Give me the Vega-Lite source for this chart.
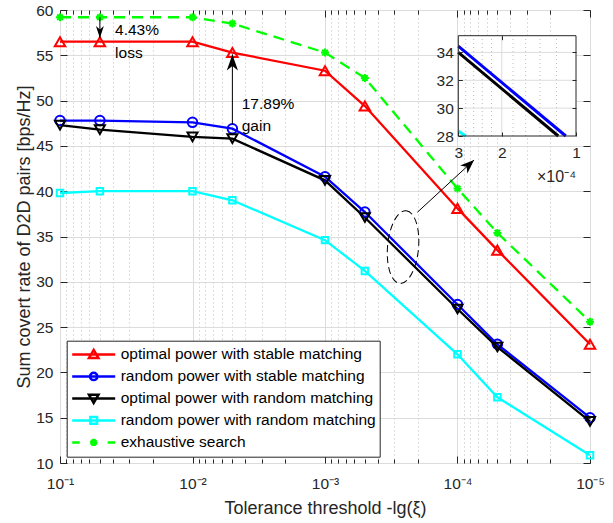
{
  "$schema": "https://vega.github.io/schema/vega-lite/v6.json",
  "width": 530,
  "height": 453,
  "autosize": {"type": "none"},
  "padding": {"left": 60, "top": 10, "right": 23, "bottom": 60},
  "background": "white",
  "datasets": {
    "main": [
      {"s": "optimal power with stable matching", "x": 0.1, "y": 56.5},
      {"s": "optimal power with stable matching", "x": 0.05, "y": 56.5},
      {"s": "optimal power with stable matching", "x": 0.01, "y": 56.5},
      {"s": "optimal power with stable matching", "x": 0.005, "y": 55.3},
      {"s": "optimal power with stable matching", "x": 0.001, "y": 53.3},
      {"s": "optimal power with stable matching", "x": 0.0005, "y": 49.4},
      {"s": "optimal power with stable matching", "x": 0.0001, "y": 38.1},
      {"s": "optimal power with stable matching", "x": 0.00005, "y": 33.5},
      {"s": "optimal power with stable matching", "x": 0.00001, "y": 23.1},
      {"s": "random power with stable matching", "x": 0.1, "y": 47.8},
      {"s": "random power with stable matching", "x": 0.05, "y": 47.8},
      {"s": "random power with stable matching", "x": 0.01, "y": 47.6},
      {"s": "random power with stable matching", "x": 0.005, "y": 46.9},
      {"s": "random power with stable matching", "x": 0.001, "y": 41.6},
      {"s": "random power with stable matching", "x": 0.0005, "y": 37.7},
      {"s": "random power with stable matching", "x": 0.0001, "y": 27.5},
      {"s": "random power with stable matching", "x": 0.00005, "y": 23.1},
      {"s": "random power with stable matching", "x": 0.00001, "y": 15.0},
      {"s": "optimal power with random matching", "x": 0.1, "y": 47.3},
      {"s": "optimal power with random matching", "x": 0.05, "y": 46.8},
      {"s": "optimal power with random matching", "x": 0.01, "y": 46.0},
      {"s": "optimal power with random matching", "x": 0.005, "y": 45.8},
      {"s": "optimal power with random matching", "x": 0.001, "y": 41.2},
      {"s": "optimal power with random matching", "x": 0.0005, "y": 37.1},
      {"s": "optimal power with random matching", "x": 0.0001, "y": 27.0},
      {"s": "optimal power with random matching", "x": 0.00005, "y": 22.8},
      {"s": "optimal power with random matching", "x": 0.00001, "y": 14.6},
      {"s": "random power with random matching", "x": 0.1, "y": 39.8},
      {"s": "random power with random matching", "x": 0.05, "y": 40.0},
      {"s": "random power with random matching", "x": 0.01, "y": 40.0},
      {"s": "random power with random matching", "x": 0.005, "y": 39.0},
      {"s": "random power with random matching", "x": 0.001, "y": 34.6},
      {"s": "random power with random matching", "x": 0.0005, "y": 31.2},
      {"s": "random power with random matching", "x": 0.0001, "y": 22.0},
      {"s": "random power with random matching", "x": 0.00005, "y": 17.25},
      {"s": "random power with random matching", "x": 0.00001, "y": 10.85},
      {"s": "exhaustive search", "x": 0.1, "y": 59.2},
      {"s": "exhaustive search", "x": 0.05, "y": 59.2},
      {"s": "exhaustive search", "x": 0.01, "y": 59.2},
      {"s": "exhaustive search", "x": 0.005, "y": 58.5},
      {"s": "exhaustive search", "x": 0.001, "y": 55.3},
      {"s": "exhaustive search", "x": 0.0005, "y": 52.5},
      {"s": "exhaustive search", "x": 0.0001, "y": 40.3},
      {"s": "exhaustive search", "x": 0.00005, "y": 35.4},
      {"s": "exhaustive search", "x": 0.00001, "y": 25.6}
    ],
    "arrows": [
      {"id": "a1", "x": 0.05, "y": 59.2, "x2": 0.05, "y2": 56.9},
      {"id": "a2", "x": 0.005, "y": 47.4, "x2": 0.005, "y2": 55.1},
      {"id": "a3", "x": 0.000201, "y": 37.67, "x2": 0.000075, "y2": 43.44}
    ],
    "labels": [
      {"t": "4.43%", "x": 0.0384, "y": 57.74},
      {"t": "loss", "x": 0.0384, "y": 55.28},
      {"t": "17.89%", "x": 0.00425, "y": 49.59},
      {"t": "gain", "x": 0.00425, "y": 47.16}
    ],
    "ellipse": [{"x": 0.0002576, "y": 33.83}],
    "inset": [
      {"s": "random power with stable matching", "x": 0.0003, "y": 34.45},
      {"s": "random power with stable matching", "x": 0.00011, "y": 28},
      {"s": "optimal power with random matching", "x": 0.0003, "y": 34.0},
      {"s": "optimal power with random matching", "x": 0.000118, "y": 28},
      {"s": "random power with random matching", "x": 0.0003, "y": 28.35},
      {"s": "random power with random matching", "x": 0.00028, "y": 28}
    ],
    "vmajor": [{"gx": 0.0002}],
    "vminor": [{"gx": 0.00012}, {"gx": 0.00014}, {"gx": 0.00016}, {"gx": 0.00018}, {"gx": 0.00022}, {"gx": 0.00024}, {"gx": 0.00026}, {"gx": 0.00028}],
    "hmajor": [{"gy": 30}, {"gy": 32}, {"gy": 34}]
  },
  "config": {
    "font": "Liberation Sans",
    "view": {"stroke": "#262626", "strokeWidth": 1},
    "axis": {
      "labelFont": "Liberation Sans", "labelFontSize": 15.5, "labelColor": "#262626",
      "titleFont": "Liberation Sans", "titleFontSize": 18, "titleFontWeight": "normal", "titleColor": "#262626",
      "tickColor": "#262626", "tickWidth": 1, "gridWidth": 1, "domain": false
    },
    "legend": {"titleFont": "Liberation Sans", "labelFont": "Liberation Sans"},
    "text": {"font": "Liberation Sans"}
  },
  "resolve": {"scale": {"x": "independent", "y": "independent"}},
  "layer": [
    {
      "resolve": {"axis": {"x": "independent", "y": "independent"}},
      "layer": [
        {
          "data": {"name": "main"},
          "transform": [{"filter": "datum.s != 'exhaustive search'"}],
          "mark": {"type": "line", "strokeWidth": 2.3},
          "encoding": {
            "x": {"field": "x", "type": "quantitative",
              "scale": {"type": "log", "domain": [0.00001, 0.1], "reverse": true, "nice": false},
              "axis": {"orient": "bottom", "values": [0.1, 0.01, 0.001, 0.0001, 0.00001],
                "labelExpr": "'10' + ['⁰','⁻¹','⁻²','⁻³','⁻⁴','⁻⁵'][round(-log(datum.value)/LN10)]",
                "tickSize": -7, "labelPadding": 32, "labelBaseline": "alphabetic", "labelFlush": false, "labelOverlap": false,
                "grid": true, "gridColor": "#dcdcdc", "domain": false,
                "title": "Tolerance threshold -lg(ξ)", "titleX": 265, "titleY": 50, "titleBaseline": "alphabetic"}},
            "y": {"field": "y", "type": "quantitative",
              "scale": {"domain": [10, 60], "nice": false, "zero": false},
              "axis": {"orient": "left", "values": [10, 15, 20, 25, 30, 35, 40, 45, 50, 55, 60],
                "tickSize": -7, "labelPadding": 14, "grid": true, "gridColor": "#dcdcdc", "domain": false,
                "title": "Sum covert rate of D2D pairs [bps/Hz]", "titleX": -35.5, "titleY": 226.5, "titleBaseline": "middle", "titleAngle": -90}},
            "stroke": {"field": "s", "type": "nominal",
              "scale": {"domain": ["exhaustive search", "random power with random matching", "optimal power with random matching", "random power with stable matching", "optimal power with stable matching"],
                "range": ["#00ff00", "#00ffff", "#000000", "#0000ff", "#ff0000"]},
              "legend": null}
          }
        },
        {
          "data": {"name": "main"},
          "transform": [{"filter": "datum.s == 'exhaustive search'"}],
          "mark": {"type": "line", "strokeWidth": 2.3, "color": "#00ff00", "strokeDash": [11, 7]},
          "encoding": {
            "x": {"field": "x", "type": "quantitative",
              "axis": {"orient": "bottom", "values": [0.09, 0.08, 0.07, 0.06, 0.05, 0.04, 0.03, 0.02, 0.009, 0.008, 0.007, 0.006, 0.005, 0.004, 0.003, 0.002, 0.0009, 0.0008, 0.0007, 0.0006, 0.0005, 0.0004, 0.0003, 0.0002, 0.00009, 0.00008, 0.00007, 0.00006, 0.00005, 0.00004, 0.00003, 0.00002],
                "tickSize": -4, "labels": false, "grid": true, "gridDash": [1, 3], "gridColor": "#bdbdbd", "domain": false, "title": null}},
            "y": {"field": "y", "type": "quantitative",
              "axis": {"orient": "right", "values": [10, 15, 20, 25, 30, 35, 40, 45, 50, 55, 60],
                "tickSize": -7, "labels": false, "grid": false, "domain": false, "title": null}}
          }
        },
        {
          "data": {"name": "main"},
          "transform": [{"filter": "datum.s == 'optimal power with stable matching'"}],
          "mark": {"type": "point", "shape": "triangle-up", "size": 110, "filled": false, "strokeWidth": 2, "color": "#ff0000", "opacity": 1},
          "encoding": {
            "x": {"field": "x", "type": "quantitative",
              "axis": {"orient": "top", "values": [0.1, 0.01, 0.001, 0.0001, 0.00001], "tickSize": -7, "labels": false, "grid": false, "domain": false, "title": null}},
            "y": {"field": "y", "type": "quantitative", "axis": null}
          }
        },
        {
          "data": {"name": "main"},
          "transform": [{"filter": "datum.s == 'random power with stable matching'"}],
          "mark": {"type": "point", "shape": "circle", "size": 90, "filled": false, "strokeWidth": 2, "color": "#0000ff", "opacity": 1},
          "encoding": {
            "x": {"field": "x", "type": "quantitative",
              "axis": {"orient": "top", "values": [0.09, 0.08, 0.07, 0.06, 0.05, 0.04, 0.03, 0.02, 0.009, 0.008, 0.007, 0.006, 0.005, 0.004, 0.003, 0.002, 0.0009, 0.0008, 0.0007, 0.0006, 0.0005, 0.0004, 0.0003, 0.0002, 0.00009, 0.00008, 0.00007, 0.00006, 0.00005, 0.00004, 0.00003, 0.00002],
                "tickSize": -4, "labels": false, "grid": false, "domain": false, "title": null}},
            "y": {"field": "y", "type": "quantitative", "axis": null}
          }
        },
        {
          "data": {"name": "main"},
          "transform": [{"filter": "datum.s == 'optimal power with random matching'"}],
          "mark": {"type": "point", "shape": "triangle-down", "size": 100, "filled": false, "strokeWidth": 2, "color": "#000000", "opacity": 1},
          "encoding": {
            "x": {"field": "x", "type": "quantitative", "axis": null},
            "y": {"field": "y", "type": "quantitative", "axis": null}
          }
        },
        {
          "data": {"name": "main"},
          "transform": [{"filter": "datum.s == 'random power with random matching'"}],
          "mark": {"type": "point", "shape": "square", "size": 42, "filled": false, "strokeWidth": 2, "color": "#00ffff", "opacity": 1},
          "encoding": {
            "x": {"field": "x", "type": "quantitative", "axis": null},
            "y": {"field": "y", "type": "quantitative", "axis": null}
          }
        },
        {
          "data": {"name": "main"},
          "transform": [{"filter": "datum.s == 'exhaustive search'"}],
          "mark": {"type": "point", "shape": "M0,-1V1M-1,0H1M-0.7,-0.7L0.7,0.7M-0.7,0.7L0.7,-0.7", "size": 64, "filled": false, "strokeWidth": 2, "color": "#00ff00", "opacity": 1},
          "encoding": {
            "x": {"field": "x", "type": "quantitative", "axis": null},
            "y": {"field": "y", "type": "quantitative", "axis": null}
          }
        },
        {
          "data": {"name": "arrows"},
          "mark": {"type": "rule", "color": "#000000", "strokeWidth": 1},
          "encoding": {
            "x": {"field": "x", "type": "quantitative", "axis": null},
            "y": {"field": "y", "type": "quantitative", "axis": null},
            "x2": {"field": "x2"},
            "y2": {"field": "y2"}
          }
        },
        {
          "data": {"name": "arrows"},
          "transform": [{"filter": "datum.id == 'a1'"}],
          "mark": {"type": "point", "shape": "M0,0L0.33,1L0,0.72L-0.33,1Z", "size": 576, "angle": 180, "filled": true, "color": "#000000", "opacity": 1},
          "encoding": {
            "x": {"field": "x2", "type": "quantitative", "axis": null},
            "y": {"field": "y2", "type": "quantitative", "axis": null}
          }
        },
        {
          "data": {"name": "arrows"},
          "transform": [{"filter": "datum.id == 'a2'"}],
          "mark": {"type": "point", "shape": "M0,0L0.35,1L0,0.72L-0.35,1Z", "size": 1024, "angle": 0, "filled": true, "color": "#000000", "opacity": 1},
          "encoding": {
            "x": {"field": "x2", "type": "quantitative", "axis": null},
            "y": {"field": "y2", "type": "quantitative", "axis": null}
          }
        },
        {
          "data": {"name": "arrows"},
          "transform": [{"filter": "datum.id == 'a3'"}],
          "mark": {"type": "point", "shape": "M0,0L0.38,1L0,0.72L-0.38,1Z", "size": 784, "angle": 47.3, "filled": true, "color": "#000000", "opacity": 1},
          "encoding": {
            "x": {"field": "x2", "type": "quantitative", "axis": null},
            "y": {"field": "y2", "type": "quantitative", "axis": null}
          }
        },
        {
          "data": {"name": "ellipse"},
          "mark": {"type": "point", "shape": "M0,-1A0.425,1,0,1,1,0,1A0.425,1,0,1,1,0,-1Z", "size": 5329, "angle": 5, "filled": false, "color": "#000000", "strokeWidth": 1, "strokeDash": [7, 4], "opacity": 1},
          "encoding": {
            "x": {"field": "x", "type": "quantitative", "axis": null},
            "y": {"field": "y", "type": "quantitative", "axis": null}
          }
        },
        {
          "data": {"name": "labels"},
          "mark": {"type": "text", "align": "left", "baseline": "middle", "fontSize": 15.5, "color": "#000000", "font": "Liberation Sans"},
          "encoding": {
            "x": {"field": "x", "type": "quantitative", "axis": null},
            "y": {"field": "y", "type": "quantitative", "axis": null},
            "text": {"field": "t"}
          }
        },
        {
          "data": {"name": "main"},
          "mark": {"type": "point", "filled": false, "strokeWidth": 2.5, "size": 0, "opacity": 1},
          "encoding": {
            "x": {"field": "x", "type": "quantitative", "axis": null},
            "y": {"field": "y", "type": "quantitative", "axis": null},
            "color": {"field": "s", "type": "nominal",
              "scale": {"domain": ["optimal power with stable matching", "random power with stable matching", "optimal power with random matching", "random power with random matching", "exhaustive search"],
                "range": ["#ff0000", "#0000ff", "#000000", "#00ffff", "#00ff00"]},
              "legend": {"title": null, "orient": "none", "legendX": 6.7, "legendY": 330.7, "padding": 3, "strokeColor": "#262626", "fillColor": "white",
                "symbolSize": 1849, "symbolStrokeWidth": 2.5, "symbolOpacity": 1, "clipHeight": 21.5, "rowPadding": 0, "labelFontSize": 15.5,
                "labelColor": "#000000", "labelOffset": 4, "symbolOffset": 1, "labelLimit": 400}},
            "shape": {"field": "s", "type": "nominal",
              "scale": {"domain": ["optimal power with stable matching", "random power with stable matching", "optimal power with random matching", "random power with random matching", "exhaustive search"],
                "range": [
                  "M-1,0H1M0,-0.21L0.22,0.17L-0.22,0.17Z",
                  "M-1,0H1M0.17,0A0.17,0.17,0,1,1,-0.17,0A0.17,0.17,0,1,1,0.17,0Z",
                  "M-1,0H1M0,0.21L0.22,-0.17L-0.22,-0.17Z",
                  "M-1,0H1M-0.155,-0.155H0.155V0.155H-0.155Z",
                  "M-1,0H-0.65M0.65,0H1M0,-0.17V0.17M-0.17,0H0.17M-0.12,-0.12L0.12,0.12M-0.12,0.12L0.12,-0.12"
                ]},
              "legend": {"title": null, "orient": "none", "legendX": 6.7, "legendY": 330.7, "padding": 3, "strokeColor": "#262626", "fillColor": "white",
                "symbolSize": 1849, "symbolStrokeWidth": 2.5, "symbolOpacity": 1, "clipHeight": 21.5, "rowPadding": 0, "labelFontSize": 15.5,
                "labelColor": "#000000", "labelOffset": 4, "symbolOffset": 1, "labelLimit": 400}}
          }
        }
      ]
    },
    {
      "resolve": {"axis": {"x": "independent", "y": "independent"}},
      "layer": [
        {
          "data": {"values": [{}]},
          "mark": {"type": "rect", "fill": "white", "strokeWidth": 0},
          "encoding": {
            "x": {"datum": 0.0003, "type": "quantitative",
              "scale": {"type": "log", "domain": [0.0001, 0.0003], "range": [516, 398.3], "nice": false},
              "axis": {"orient": "bottom", "offset": -327, "values": [0.0001, 0.0002, 0.0003], "labelExpr": "round(datum.value*10000) + ''",
                "tickSize": -4, "labelPadding": 25.7, "labelBaseline": "alphabetic", "labelFlush": false, "labelOverlap": false,
                "grid": false, "domain": false, "title": null, "zindex": 1}},
            "x2": {"datum": 0.0001},
            "y": {"datum": 28, "type": "quantitative",
              "scale": {"domain": [28, 35.2], "range": [126, 25.7], "nice": false, "zero": false},
              "axis": {"orient": "left", "offset": -398.3, "values": [28, 30, 32, 34], "tickSize": -4, "labelPadding": 9,
                "grid": false, "domain": false, "title": null, "zindex": 1}},
            "y2": {"datum": 35.2}
          }
        },
        {
          "data": {"name": "vmajor"},
          "mark": {"type": "rule", "color": "#dcdcdc", "strokeWidth": 1},
          "encoding": {
            "x": {"field": "gx", "type": "quantitative",
              "axis": {"orient": "top", "offset": -25.7, "values": [0.0002], "tickSize": -4, "labels": false, "grid": false, "domain": false, "title": null, "zindex": 1}},
            "y": {"datum": 28, "type": "quantitative",
              "axis": {"orient": "right", "offset": -14, "values": [30, 32, 34], "tickSize": -4, "labels": false, "grid": false, "domain": false, "title": null, "zindex": 1}},
            "y2": {"datum": 35.2}
          }
        },
        {
          "data": {"name": "vminor"},
          "mark": {"type": "rule", "color": "#bdbdbd", "strokeWidth": 1, "strokeDash": [1, 3]},
          "encoding": {
            "x": {"field": "gx", "type": "quantitative", "axis": null},
            "y": {"datum": 28, "type": "quantitative", "axis": null},
            "y2": {"datum": 35.2}
          }
        },
        {
          "data": {"name": "hmajor"},
          "mark": {"type": "rule", "color": "#dcdcdc", "strokeWidth": 1},
          "encoding": {
            "y": {"field": "gy", "type": "quantitative", "axis": null},
            "x": {"datum": 0.0003, "type": "quantitative", "axis": null},
            "x2": {"datum": 0.0001}
          }
        },
        {
          "data": {"name": "inset"},
          "mark": {"type": "line", "strokeWidth": 3},
          "encoding": {
            "x": {"field": "x", "type": "quantitative", "axis": null},
            "y": {"field": "y", "type": "quantitative", "axis": null},
            "stroke": {"field": "s", "type": "nominal",
              "scale": {"domain": ["exhaustive search", "random power with random matching", "optimal power with random matching", "random power with stable matching", "optimal power with stable matching"],
                "range": ["#00ff00", "#00ffff", "#000000", "#0000ff", "#ff0000"]},
              "legend": null}
          }
        },
        {
          "data": {"values": [{}]},
          "mark": {"type": "rect", "fill": null, "fillOpacity": 0, "stroke": "#262626", "strokeWidth": 1},
          "encoding": {
            "x": {"datum": 0.0003, "type": "quantitative", "axis": null},
            "x2": {"datum": 0.0001},
            "y": {"datum": 28, "type": "quantitative", "axis": null},
            "y2": {"datum": 35.2}
          }
        },
        {
          "data": {"values": [{}]},
          "mark": {"type": "text", "align": "right", "baseline": "alphabetic", "fontSize": 16, "color": "#262626", "font": "Liberation Sans", "text": "×10⁻⁴"},
          "encoding": {
            "x": {"datum": 0.0001, "type": "quantitative", "axis": null},
            "y": {"datum": 24.72, "type": "quantitative", "axis": null}
          }
        }
      ]
    }
  ]
}
